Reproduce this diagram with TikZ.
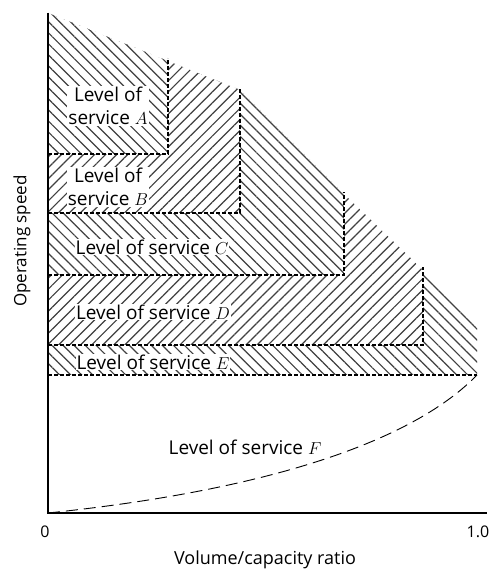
\documentclass[tikz,border=0pt]{standalone}
\usepackage{fontspec}
\setmainfont{Open Sans}
\usetikzlibrary{patterns.meta}

\begin{document}
\begin{tikzpicture}[x=1pt, y=1pt,
    hatchL/.style={preaction={fill=white}, pattern={Lines[angle=-45, distance=7.8pt, line width=1.2pt]}, pattern color=black!75},
    hatchR/.style={preaction={fill=white}, pattern={Lines[angle=45, distance=7.8pt, line width=1.2pt]}, pattern color=black!75},
    bound/.style={line width=1.1pt, dash pattern=on 4pt off 2pt},
    lab/.style={fill=white, inner sep=1pt, align=center, font=\fontsize{19}{23}\selectfont}]
    \useasboundingbox (0,0) rectangle (495,569);

    % Obere Kante der Schraffur
    \coordinate (T0) at (48,556);
    \coordinate (TB) at (240,479);
    \coordinate (TC) at (344,375);
    \coordinate (TD) at (423,299);
    \coordinate (TE) at (477,241);

    % Bereiche von E nach A
    \fill[hatchL] (48,194) -- (477,194) -- (TE) -- (TD) -- (TC) -- (TB) -- (T0) -- cycle;
    \fill[hatchR] (48,224) -- (423,224) -- (TD) -- (TC) -- (TB) -- (T0) -- cycle;
    \fill[hatchL] (48,294) -- (344,294) -- (TC) -- (TB) -- (T0) -- cycle;
    \fill[hatchR] (48,356) -- (240,356) -- (TB) -- (T0) -- cycle;
    \fill[hatchL] (48,415) -- (168,415) -- (168,508) -- (T0) -- cycle;

    % Grenzen
    \draw[bound] (48,415) -- (168,415) -- (168,511);
    \draw[bound] (48,356) -- (240,356) -- (240,481);
    \draw[bound] (48,294) -- (344,294) -- (344,377);
    \draw[bound] (48,224) -- (423,224) -- (423,302);
    \draw[bound] (48,194) -- (477,194);

    % Achsen
    \coordinate (O) at (48,56);
    \coordinate (X) at (487,56);
    \draw[line width=1.1pt] (T0) -- (O) -- (X);

    % Grenze F
    \draw[line width=0.9pt, dash pattern=on 12pt off 6pt] (O) .. controls (260,78) and (410,125) .. (477,194);

    % Beschriftungen
    \node[lab] (losA) at (108,463) {Level of\\service $A$};
    \node[lab] (losB) at (108,382) {Level of\\service $B$};
    \node[lab] (losC) at (152,322) {Level of service $C$};
    \node[lab] (losD) at (153,257) {Level of service $D$};
    \node[lab] (losE) at (153,207) {Level of service $E$};
    \node[font=\fontsize{19}{23}\selectfont] (losF) at (245,122) {Level of service $F$};

    \node[font=\fontsize{16}{20}\selectfont] (zero) at (45,37) {0};
    \node[font=\fontsize{16}{20}\selectfont] (one) at (478,37) {1.0};
    \node[font=\fontsize{18}{22}\selectfont] (xlab) at (265,9) {Volume/capacity ratio};
    \node[font=\fontsize{17}{21}\selectfont, rotate=90] (ylab) at (22,328) {Operating speed};
\end{tikzpicture}
\end{document}
